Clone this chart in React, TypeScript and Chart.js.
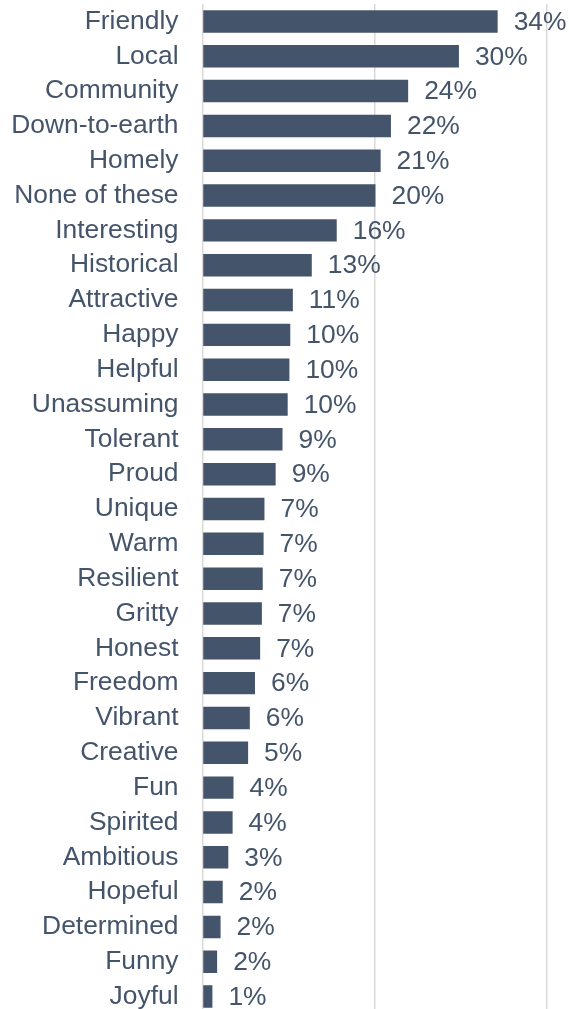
import React, { useEffect, useRef } from "react";
import { Chart, registerables } from "chart.js";

Chart.register(...registerables);

const categories = [
  "Friendly", "Local", "Community", "Down-to-earth", "Homely", "None of these",
  "Interesting", "Historical", "Attractive", "Happy", "Helpful", "Unassuming",
  "Tolerant", "Proud", "Unique", "Warm", "Resilient", "Gritty", "Honest",
  "Freedom", "Vibrant", "Creative", "Fun", "Spirited", "Ambitious", "Hopeful",
  "Determined", "Funny", "Joyful",
];

const values = [
  34.3, 29.8, 23.9, 21.9, 20.7, 20.1, 15.6, 12.7, 10.5, 10.2, 10.1, 9.9,
  9.3, 8.5, 7.2, 7.1, 7.0, 6.9, 6.7, 6.1, 5.5, 5.3, 3.6, 3.5, 3.0, 2.35,
  2.1, 1.7, 1.15,
];

const valueLabels = [
  "34%", "30%", "24%", "22%", "21%", "20%", "16%", "13%", "11%", "10%", "10%", "10%",
  "9%", "9%", "7%", "7%", "7%", "7%", "7%", "6%", "6%", "5%", "4%", "4%", "3%", "2%",
  "2%", "2%", "1%",
];

const xTicks = [0, 20, 40];

const BAR_COLOR = "#44546A";
const TEXT_COLOR = "#44546A";
const GRID_COLOR = "#d9d9d9";
const FONT_FAMILY = "'Liberation Sans', Arial, sans-serif";
const FONT_SIZE = 26.4;

const valueLabelPlugin = {
  id: "valueLabels",
  afterDatasetsDraw(chart: any) {
    const { ctx } = chart;
    const meta = chart.getDatasetMeta(0);
    ctx.save();
    ctx.font = `${FONT_SIZE}px ${FONT_FAMILY}`;
    ctx.fillStyle = TEXT_COLOR;
    ctx.textAlign = "left";
    ctx.textBaseline = "middle";
    meta.data.forEach((bar: any, i: number) => {
      ctx.fillText(valueLabels[i], bar.x + 16, bar.y + 1);
    });
    ctx.restore();
  },
};

export default function App() {
  const canvasRef = useRef<HTMLCanvasElement | null>(null);

  useEffect(() => {
    if (!canvasRef.current) return;
    const chart = new Chart(canvasRef.current, {
      type: "bar",
      data: {
        labels: categories,
        datasets: [
          {
            data: values,
            backgroundColor: BAR_COLOR,
            borderWidth: 0,
            categoryPercentage: 1,
            barPercentage: 0.645,
          },
        ],
      },
      options: {
        indexAxis: "y",
        animation: false,
        responsive: true,
        maintainAspectRatio: false,
        layout: { padding: { top: 4, right: 22.3, bottom: 0, left: 0 } },
        plugins: {
          legend: { display: false },
          tooltip: { enabled: false },
        },
        scales: {
          x: {
            min: xTicks[0],
            max: xTicks[xTicks.length - 1],
            afterBuildTicks: (scale: any) => {
              scale.ticks = xTicks.map((v) => ({ value: v }));
            },
            afterFit: (scale: any) => {
              scale.height = 0;
              scale.paddingLeft = 0;
              scale.paddingRight = 0;
            },
            ticks: { display: false },
            grid: {
              display: true,
              color: GRID_COLOR,
              lineWidth: 1.5,
              drawTicks: false,
            },
            border: { display: false },
          },
          y: {
            afterFit: (scale: any) => {
              scale.width = 202.5;
              scale.paddingTop = 0;
              scale.paddingBottom = 0;
            },
            ticks: {
              color: TEXT_COLOR,
              font: { family: FONT_FAMILY, size: FONT_SIZE },
              padding: 24,
              autoSkip: false,
            },
            grid: { display: false, drawTicks: false },
            border: { display: false },
          },
        },
      },
      plugins: [valueLabelPlugin],
    });
    return () => chart.destroy();
  }, []);

  return (
    <div style={{ position: "absolute", left: 0, top: 0, width: 569, height: 1014 }}>
      <canvas ref={canvasRef} />
    </div>
  );
}
